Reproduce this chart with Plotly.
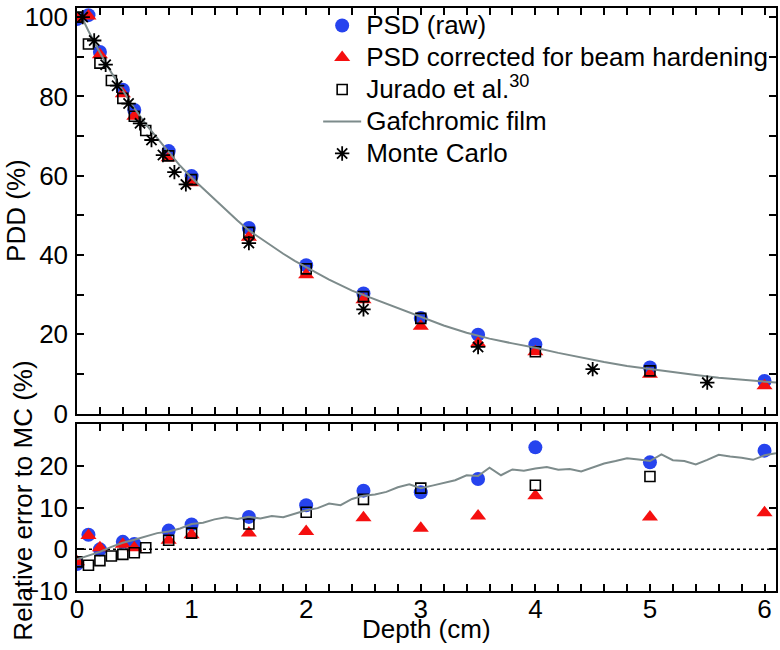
import plotly.graph_objects as go

# ---------------- data ----------------
psd_depth = [0, 0.1, 0.2, 0.4, 0.5, 0.8, 1.0, 1.5, 2.0, 2.5, 3.0, 3.5, 4.0, 5.0, 6.0]
psd_raw_pdd = [99.5, 100.5, 91.2, 81.7, 76.6, 66.2, 59.9, 46.8, 37.4, 30.3, 24.1, 19.9, 17.4, 11.6, 8.2]
psd_corr_pdd = [99.5, 100.3, 90.5, 80.7, 75.0, 64.5, 58.2, 44.5, 35.0, 28.7, 22.0, 17.8, 15.6, 9.9, 7.0]
psd_raw_err = [-3.5, 3.5, 0.0, 1.8, 1.3, 4.5, 6.0, 7.8, 10.6, 14.1, 13.7, 16.9, 24.5, 20.9, 23.7]
psd_corr_err = [-3.0, 3.3, 0.4, 1.2, 0.4, 2.2, 3.5, 3.9, 4.3, 7.6, 5.1, 8.0, 12.9, 7.8, 8.8]

jurado_depth = [0, 0.1, 0.2, 0.3, 0.4, 0.5, 0.6, 0.8, 1.0, 1.5, 2.0, 2.5, 3.0, 4.0, 5.0]
jurado_pdd = [100, 93.2, 88.4, 84.0, 79.5, 75.0, 71.4, 65.0, 59.0, 45.7, 36.5, 29.5, 24.0, 15.6, 10.75]
jurado_err = [-3.0, -3.8, -2.7, -1.6, -1.2, -0.8, 0.4, 2.2, 3.9, 6.1, 8.9, 12.0, 14.7, 15.4, 17.5]

mc_depth = [0.05, 0.15, 0.25, 0.35, 0.45, 0.55, 0.65, 0.75, 0.85, 0.95, 1.5, 2.5, 3.5, 4.5, 5.5]
mc_pdd = [100, 94.1, 88.0, 82.7, 78.2, 73.2, 69.0, 65.2, 60.9, 57.8, 43.0, 26.3, 16.8, 11.2, 7.8]

film_depth = [0.05, 0.1, 0.2, 0.3, 0.4, 0.5, 0.6, 0.7, 0.8, 0.9, 1.0, 1.1, 1.2, 1.3, 1.4,
              1.5, 1.6, 1.7, 1.8, 1.9, 2.0, 2.2, 2.4, 2.6, 2.8, 3.0, 3.2, 3.4, 3.6, 3.8,
              4.0, 4.2, 4.4, 4.6, 4.8, 5.0, 5.2, 5.4, 5.6, 5.8, 6.0, 6.1]
film_pdd = [99.5, 96.5, 91.0, 86.0, 81.5, 77.0, 73.0, 69.5, 66.0, 62.5, 59.5, 56.8, 54.0, 51.3, 48.7,
            46.2, 44.2, 42.3, 40.3, 38.5, 36.9, 33.8, 31.0, 28.8, 26.6, 24.3, 22.2, 20.4, 18.9, 17.7,
            16.6, 15.3, 14.1, 13.0, 12.0, 11.2, 10.4, 9.7, 9.0, 8.5, 8.1, 7.8]

film_err_depth = [0.0, 0.1, 0.2, 0.3, 0.4, 0.5, 0.6, 0.7, 0.8, 0.9, 1.0, 1.1, 1.2, 1.3, 1.4, 1.5,
                  1.6, 1.7, 1.8, 1.9, 2.0, 2.1, 2.2, 2.3, 2.4, 2.5, 2.6, 2.7, 2.8, 2.9, 3.0, 3.1,
                  3.2, 3.3, 3.4, 3.5, 3.6, 3.7, 3.8, 3.9, 4.0, 4.1, 4.2, 4.3, 4.4, 4.5, 4.6, 4.7,
                  4.8, 4.9, 5.0, 5.1, 5.2, 5.3, 5.4, 5.5, 5.6, 5.7, 5.8, 5.9, 6.0, 6.1]
film_err = [-2.4, -1.5, -0.6, 0.6, 1.6, 2.3, 3.1, 3.9, 4.3, 5.0, 6.1, 6.4, 7.2, 7.7, 7.3, 7.8,
            7.4, 8.0, 7.7, 8.5, 9.4, 9.9, 11.0, 10.6, 12.1, 12.9, 13.2, 13.8, 14.9, 15.6, 14.7, 15.3,
            16.0, 16.6, 17.8, 17.6, 19.6, 17.8, 19.2, 18.9, 19.4, 19.8, 19.1, 19.3, 18.7, 19.6, 20.6, 21.2,
            21.9, 21.6, 21.2, 22.8, 21.4, 21.2, 20.4, 21.5, 22.7, 22.3, 22.0, 21.5, 22.6, 23.1]

x_ticks = [0, 1, 2, 3, 4, 5, 6]
pdd_ticks = [0, 20, 40, 60, 80, 100]
err_ticks = [-10, 0, 10, 20]

# ---------------- style ----------------
FONT = "Liberation Sans, Arial, sans-serif"
BLUE = "#2643ee"
RED = "#f50f0f"
GRAY = "#7d8b8b"

fig = go.Figure()

def add_set(xa, ya, raw, corr, jur, film_x, film_y, mc, show):
    fig.add_trace(go.Scatter(x=psd_depth, y=raw, mode="markers", name="PSD (raw)",
                             marker=dict(symbol="circle", size=14, color=BLUE),
                             xaxis=xa, yaxis=ya, showlegend=show, legendrank=1))
    fig.add_trace(go.Scatter(x=psd_depth, y=corr, mode="markers",
                             name="PSD corrected for beam hardening",
                             marker=dict(symbol="triangle-up", size=14, color=RED),
                             xaxis=xa, yaxis=ya, showlegend=show, legendrank=2))
    fig.add_trace(go.Scatter(x=jurado_depth, y=jur, mode="markers",
                             name="Jurado et al.<sup>30</sup>",
                             marker=dict(symbol="square-open", size=10, color="black",
                                         line=dict(width=1.6, color="black")),
                             xaxis=xa, yaxis=ya, showlegend=show, legendrank=3))
    fig.add_trace(go.Scatter(x=film_x, y=film_y, mode="lines", name="Gafchromic film",
                             line=dict(color=GRAY, width=2),
                             xaxis=xa, yaxis=ya, showlegend=show, legendrank=4))
    if mc is not None:
        fig.add_trace(go.Scatter(x=mc_depth, y=mc, mode="markers", name="Monte Carlo",
                                 marker=dict(symbol="asterisk-open", size=12, color="black",
                                             line=dict(width=1.8, color="black")),
                                 xaxis=xa, yaxis=ya, showlegend=show, legendrank=5))

add_set("x", "y", psd_raw_pdd, psd_corr_pdd, jurado_pdd, film_depth, film_pdd, mc_pdd, True)
add_set("x2", "y2", psd_raw_err, psd_corr_err, jurado_err, film_err_depth, film_err, None, False)

axis_common = dict(showline=True, linecolor="black", linewidth=1.5, mirror="ticks",
                   ticks="inside", ticklen=7, tickwidth=1.5, tickcolor="black",
                   showgrid=False, zeroline=False, ticklabeloverflow="allow",
                   tickfont=dict(family=FONT, size=26, color="black"))

fig.update_layout(
    width=780, height=650,
    margin=dict(l=77, r=2, t=3, b=59),
    paper_bgcolor="white", plot_bgcolor="white",
    font=dict(family=FONT, size=26, color="black"),
    xaxis=dict(domain=[0, 1], anchor="y", range=[0, 6.1], tickvals=x_ticks,
               showticklabels=False,
               minor=dict(dtick=0.2, ticks="inside", ticklen=7, tickwidth=1.5, tickcolor="black"),
               **axis_common),
    yaxis=dict(domain=[0.3044, 1], anchor="x", range=[0, 102.3], tickvals=pdd_ticks,
               ticklabelstandoff=2,
               minor=dict(dtick=10, ticks="inside", ticklen=7, tickwidth=1.5, tickcolor="black"),
               **axis_common),
    xaxis2=dict(domain=[0, 1], anchor="y2", range=[0, 6.1], tickvals=x_ticks,
                matches="x", ticklabelstandoff=-6,
                minor=dict(dtick=0.2, ticks="inside", ticklen=7, tickwidth=1.5, tickcolor="black"),
                **axis_common),
    yaxis2=dict(domain=[0, 0.2857], anchor="x2", range=[-10, 30], tickvals=err_ticks,
                ticklabelstandoff=2,
                **axis_common),
    legend=dict(x=0.345, y=1.006, xanchor="left", yanchor="top",
                bgcolor="rgba(0,0,0,0)", borderwidth=0, itemwidth=38,
                font=dict(family=FONT, size=22.3, color="black"),
                tracegroupgap=0),
    shapes=[dict(type="line", xref="x2 domain", x0=0, x1=1, yref="y2", y0=0, y1=0,
                 line=dict(color="black", width=1.5, dash="dot"), layer="below")],
    annotations=[
        dict(text="PDD (%)", xref="paper", yref="paper", x=0, y=0.652, xanchor="center",
             yanchor="middle", xshift=-61, textangle=-90, showarrow=False,
             font=dict(family=FONT, size=26, color="black")),
        dict(text="Relative error to MC (%)", xref="paper", yref="paper", x=0, y=0.155,
             xanchor="center", yanchor="middle", xshift=-54, textangle=-90, showarrow=False,
             font=dict(family=FONT, size=26, color="black")),
        dict(text="Depth (cm)", xref="paper", yref="paper", x=0.5, y=0, xanchor="center",
             yanchor="middle", yshift=-38, showarrow=False,
             font=dict(family=FONT, size=26, color="black")),
    ],
)

# legend entries rendered at 26px while keeping compact row spacing
for tr in fig.data:
    if tr.showlegend is not False and tr.name:
        tr.name = '<span style="font-size:26px">' + tr.name + '</span>'

fig.write_html("out.html", config={"displayModeBar": False},
               post_script="document.body.style.margin='0px';document.body.style.padding='0px';")
